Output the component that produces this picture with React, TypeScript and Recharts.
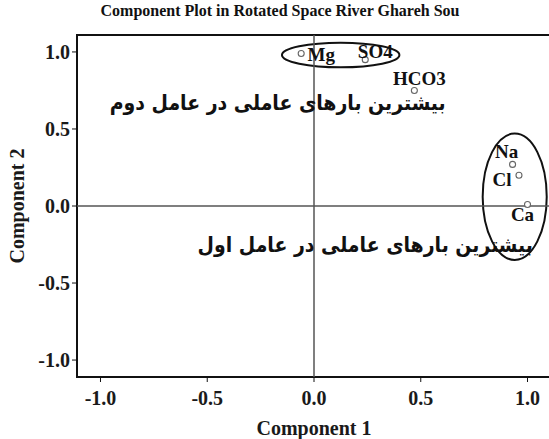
import React from 'react';
import {
  ReferenceArea,
  ReferenceDot,
  ReferenceLine,
  Scatter,
  ScatterChart,
  XAxis,
  YAxis,
} from 'recharts';

// rotated component loadings
const variables = ['Mg', 'SO4', 'HCO3', 'Na', 'Cl', 'Ca'];
const component1 = [-0.06, 0.24, 0.47, 0.93, 0.96, 1.0];
const component2 = [0.99, 0.95, 0.75, 0.27, 0.2, 0.01];

const axisTicks = [-1, -0.5, 0, 0.5, 1];
const axisDomain = [-1.11, 1.11];

// ellipses drawn round each group (data units)
const groupLeft = [-0.15, 0.79];
const groupRight = [0.4, 1.09];
const groupBottom = [0.9, -0.35];
const groupTop = [1.06, 0.47];

// Persian notes written over the plot
const notes = ['بیشترین بارهای عاملی در عامل دوم', 'بیشترین بارهای عاملی در عامل اول'];
const noteX = [-0.17, 0.24];
const noteY = [0.67, -0.25];

const SERIF = '"Liberation Serif", "Times New Roman", serif';

// label offsets in px, relative to the point
const labelOffset: Record<string, { dx: number; dy: number }> = {
  Mg: { dx: 20, dy: 1 },
  SO4: { dx: 10, dy: -8 },
  HCO3: { dx: 5, dy: -12 },
  Na: { dx: -6, dy: -13 },
  Cl: { dx: -17, dy: 4 },
  Ca: { dx: -5, dy: 10 },
};

const data = variables.map((name, i) => ({ name, x: component1[i], y: component2[i] }));

function PointShape(props: any) {
  const { cx, cy, payload } = props;
  const off = labelOffset[payload.name] || { dx: 0, dy: -10 };
  return (
    <g>
      <circle cx={cx} cy={cy} r={3} fill="#fff" stroke="#666" strokeWidth={1.1} />
      <text
        x={cx + off.dx}
        y={cy + off.dy}
        textAnchor="middle"
        dominantBaseline="central"
        fontFamily={SERIF}
        fontWeight="bold"
        fontSize={19}
        fill="#111"
      >
        {payload.name}
      </text>
    </g>
  );
}

function EllipseShape(props: any) {
  const { x, y, width, height } = props;
  return (
    <ellipse
      cx={x + width / 2}
      cy={y + height / 2}
      rx={Math.abs(width) / 2}
      ry={Math.abs(height) / 2}
      fill="none"
      stroke="#111"
      strokeWidth={2}
    />
  );
}

function NoteShape(text: string) {
  return (props: any) => (
    <text
      x={props.cx}
      y={props.cy}
      textAnchor="middle"
      dominantBaseline="central"
      direction="rtl"
      fontFamily='"DejaVu Sans Condensed", "DejaVu Sans", sans-serif'
      fontWeight="bold"
      fontSize={21}
      fill="#111"
    >
      {text}
    </text>
  );
}

const tickStyle = { fontFamily: SERIF, fontWeight: 'bold' as const, fontSize: 20, fill: '#1a1a1a' };

export default function App() {
  return (
    <div style={{ position: 'relative', width: 549, height: 439, overflow: 'hidden', background: '#fff' }}>
      <style>{'body{margin:0}'}</style>
      <div
        style={{
          position: 'absolute',
          top: 2,
          left: 0,
          width: 560,
          textAlign: 'center',
          fontFamily: SERIF,
          fontWeight: 'bold',
          fontSize: 16,
          color: '#111',
        }}
      >
        Component Plot in Rotated Space River Ghareh Sou
      </div>
      <ScatterChart width={551} height={439} margin={{ top: 35, right: 0, bottom: 0, left: 0 }}>
        <XAxis
          type="number"
          dataKey="x"
          domain={axisDomain}
          ticks={axisTicks}
          allowDataOverflow
          height={62}
          axisLine={false}
          tickLine={{ stroke: '#111' }}
          tickSize={5}
          tickMargin={9}
          tick={tickStyle}
          tickFormatter={(v) => v.toFixed(1)}
          label={{
            value: 'Component 1',
            position: 'insideBottom',
            offset: 4,
            style: { fontFamily: SERIF, fontWeight: 'bold', fontSize: 20, fill: '#1a1a1a' },
          }}
        />
        <YAxis
          type="number"
          dataKey="y"
          domain={axisDomain}
          ticks={axisTicks}
          allowDataOverflow
          width={77}
          axisLine={false}
          tickLine={{ stroke: '#111' }}
          tickSize={5}
          tickMargin={2}
          tick={tickStyle}
          tickFormatter={(v) => v.toFixed(1)}
          label={{
            content: (p: any) => {
              const vb = p.viewBox;
              const cy = vb.y + vb.height / 2;
              return (
                <text
                  x={17}
                  y={cy}
                  transform={`rotate(-90 17 ${cy})`}
                  textAnchor="middle"
                  dominantBaseline="central"
                  fontFamily={SERIF}
                  fontWeight="bold"
                  fontSize={20}
                  fill="#1a1a1a"
                >
                  Component 2
                </text>
              );
            },
          }}
        />
        <ReferenceArea
          x1={axisDomain[0]}
          x2={axisDomain[1]}
          y1={axisDomain[0]}
          y2={axisDomain[1]}
          fill="none"
          stroke="#111"
          strokeWidth={2}
          ifOverflow="visible"
        />
        <ReferenceLine x={0} stroke="#555" strokeWidth={1.5} />
        <ReferenceLine y={0} stroke="#555" strokeWidth={1.5} />
        {groupLeft.map((_, i) => (
          <ReferenceArea
            key={`g${i}`}
            x1={groupLeft[i]}
            x2={groupRight[i]}
            y1={groupBottom[i]}
            y2={groupTop[i]}
            ifOverflow="visible"
            shape={<EllipseShape />}
          />
        ))}
        {notes.map((t, i) => (
          <ReferenceDot key={`n${i}`} x={noteX[i]} y={noteY[i]} r={0} ifOverflow="visible" shape={NoteShape(t)} />
        ))}
        <Scatter data={data} shape={<PointShape />} isAnimationActive={false} />
      </ScatterChart>
    </div>
  );
}
